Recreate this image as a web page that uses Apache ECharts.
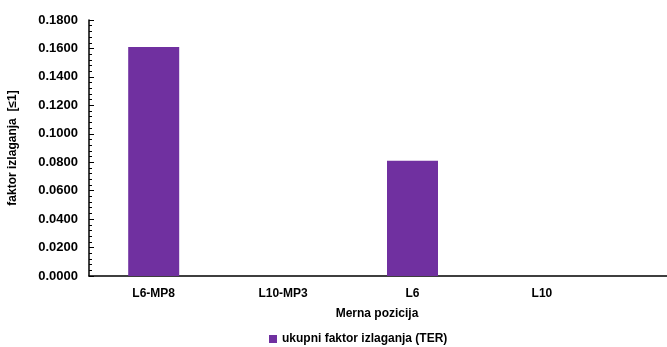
<!DOCTYPE html>
<html>
<head>
<meta charset="utf-8">
<script src="https://cdn.jsdelivr.net/npm/echarts@6/dist/echarts.min.js"></script>
<style>
  html, body { margin: 0; padding: 0; background: #fff; }
  #chart { width: 667px; height: 347px; }
</style>
</head>
<body>
<div id="chart"></div>
<script>
var categories = ['L6-MP8', 'L10-MP3', 'L6', 'L10'];
var terValues = [0.161, 0, 0.081, 0];
var seriesName = 'ukupni faktor izlaganja (TER)';

var font = 'Liberation Sans';
var chart = echarts.init(document.getElementById('chart'));
var option = {
  animation: false,
  textStyle: { fontFamily: font },
  grid: { left: 89, top: 20, width: 647, height: 256, outerBoundsMode: 'none' },
  legend: {
    bottom: -3,
    left: 264,
    itemWidth: 8,
    itemHeight: 8,
    icon: 'rect',
    textStyle: { fontFamily: font, fontSize: 12, fontWeight: 'bold', color: '#000' },
    data: [seriesName]
  },
  xAxis: {
    type: 'category',
    // trailing empty slot: the plot runs past the right edge of the image
    data: categories.concat(['']),
    name: 'Merna pozicija',
    nameLocation: 'middle',
    nameGap: 32,
    nameTextStyle: { fontSize: 12, fontWeight: 'bold', color: '#000', padding: [0, 0, 0, -71] },
    axisLine: { lineStyle: { color: '#000', width: 1.5 } },
    axisTick: { inside: true, alignWithLabel: true, length: 3, lineStyle: { color: '#000' } },
    axisLabel: { fontSize: 12, fontWeight: 'bold', color: '#000', margin: 12 }
  },
  yAxis: {
    type: 'value',
    min: 0,
    max: 0.18,
    interval: 0.02,
    name: 'faktor izlaganja  [≤1]',
    nameLocation: 'middle',
    nameGap: 70,
    nameTextStyle: { fontSize: 12, fontWeight: 'bold', color: '#000' },
    axisLine: { show: true, lineStyle: { color: '#000', width: 1.5 } },
    axisTick: { show: true, inside: true, length: 5, lineStyle: { color: '#000' } },
    minorTick: { show: true, splitNumber: 5, length: 3, lineStyle: { color: '#000' } },
    splitLine: { show: false },
    axisLabel: {
      fontSize: 13, fontWeight: 'bold', color: '#000', margin: 11,
      formatter: function (v) { return v.toFixed(4); }
    }
  },
  series: [
    {
      name: seriesName,
      type: 'bar',
      data: terValues,
      barWidth: 51,
      itemStyle: { color: '#7030A0' }
    }
  ]
};
chart.setOption(option);
</script>
</body>
</html>
